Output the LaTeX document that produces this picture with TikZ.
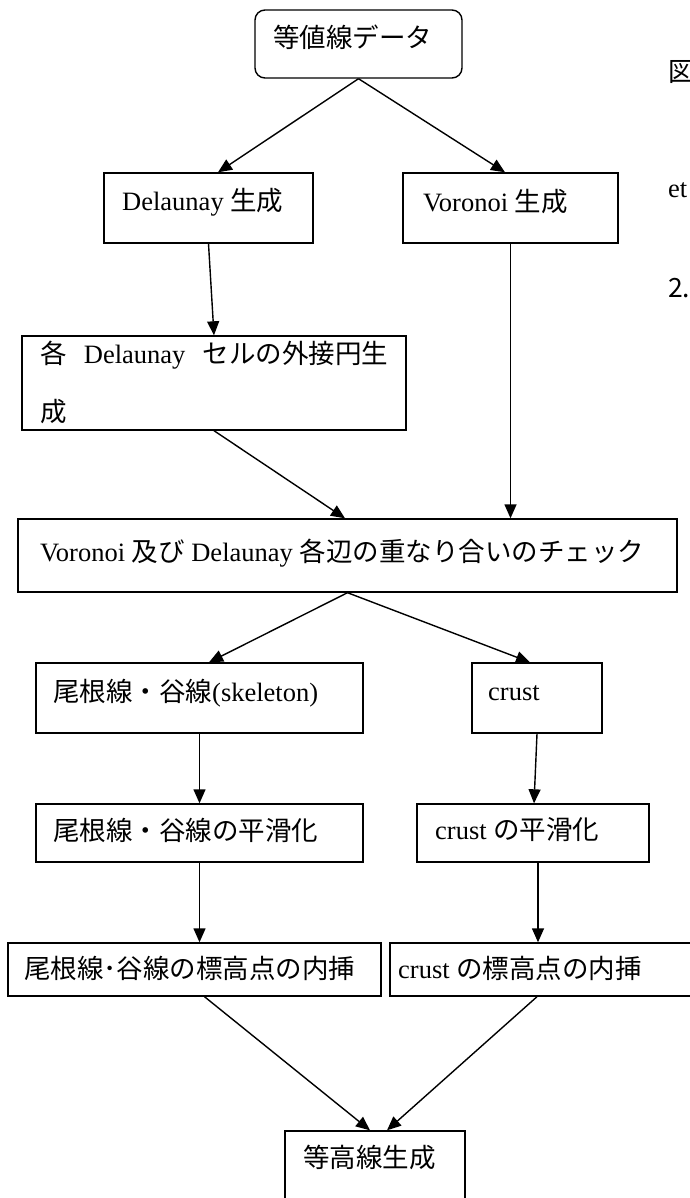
\documentclass[tikz,border=0pt]{standalone}
\usepackage{fontspec}
\setmainfont{Liberation Serif}
\newfontfamily\jp{Noto Sans CJK JP}
\usetikzlibrary{arrows.meta,calc}
\newcommand\J[1]{{\jp #1}}
\begin{document}
\begin{tikzpicture}[x=1pt,y=-1pt,
  font=\fontsize{26.5}{30}\selectfont,
  box/.style={draw, line width=1.4pt, inner sep=0pt},
  txt/.style={anchor=west, inner sep=0pt},
  arr/.style={-{Triangle[width=12pt,length=14pt]}, line width=1.4pt}]
\useasboundingbox (0,0) rectangle (689,1198);
% boxes
\node[box, rounded corners=10pt, minimum width=207pt, minimum height=68pt] (A) at (358.5,44) {};
\node[box, minimum width=209pt, minimum height=70pt] (B) at (208.5,208) {};
\node[box, minimum width=215pt, minimum height=70pt] (C) at (510.5,208) {};
\node[box, minimum width=384pt, minimum height=94pt] (D) at (214,383) {};
\node[box, minimum width=659pt, minimum height=73pt] (E) at (347.5,555.5) {};
\node[box, minimum width=327pt, minimum height=70pt] (F) at (199.5,698) {};
\node[box, minimum width=130pt, minimum height=70pt] (G) at (537,698) {};
\node[box, minimum width=327pt, minimum height=58pt] (H) at (199.5,833) {};
\node[box, minimum width=232pt, minimum height=58pt] (I) at (533,833) {};
\node[box, minimum width=373pt, minimum height=53pt] (J) at (194.5,969.5) {};
\node[box, minimum width=320pt, minimum height=53pt] (K) at (550,969.5) {};
\node[box, minimum width=180pt, minimum height=84pt] (L) at (375,1173) {};
% texts
\node[txt] (tA) at (273,37) {\J{等値線データ}};
\node[txt] (tB) at (122,202) {Delaunay \J{生成}};
\node[txt] (tC) at (423,202) {Voronoi \J{生成}};
\node[txt] (tD1) at (40,355) {\makebox[348pt][s]{\J{各} Delaunay \J{セルの外接円生}}};
\node[txt] (tD2) at (40,412) {\J{成}};
\node[txt] (tE) at (40,553) {Voronoi \J{及び} Delaunay \J{各辺の重なり合いのチェック}};
\node[txt] (tF) at (53,693) {\J{尾根線・谷線}(skeleton)};
\node[txt] (tG) at (488,693) {crust};
\node[txt] (tH) at (53,830) {\J{尾根線・谷線の平滑化}};
\node[txt] (tI) at (435,830) {crust \J{の平滑化}};
\node[txt] (tJ) at (24,968) {\J{尾根線･谷線の標高点の内挿}};
\node[txt] (tK) at (398,968) {crust \J{の標高点の内挿}};
\node[txt] (tL) at (303,1157) {\J{等高線生成}};
% side texts (cut at the page edge)
\node[txt] (s1) at (668,72) {\J{図}};
\node[txt] (s2) at (668,190) {et};
\node[txt] (s3) at (668,288) {\jp 2.};
% connectors
\draw[arr] (A.south) -- ([xshift=9.5pt]B.north);
\draw[arr] (A.south) -- ([xshift=-5.5pt]C.north);
\draw[arr] (B.south) -- (D.north);
\draw[arr] (C.south) -- (C.south |- E.north);
\draw[arr] (D.south) -- ([xshift=-2.5pt]E.north);
\draw[arr] (E.south) -- ([xshift=9.5pt]F.north);
\draw[arr] (E.south) -- ([xshift=-7pt]G.north);
\draw[arr] (F.south) -- (H.north);
\draw[arr] (G.south) -- ([xshift=1pt]I.north);
\draw[arr] (H.south) -- (H.south |- J.north);
\draw[arr] ([xshift=5pt]I.south) -- ([xshift=5pt]I.south |- K.north);
\draw[arr] ([xshift=10pt]J.south) -- ([xshift=-5pt]L.north);
\draw[arr] ([xshift=-13pt]K.south) -- ([xshift=12pt]L.north);
\end{tikzpicture}
\end{document}
